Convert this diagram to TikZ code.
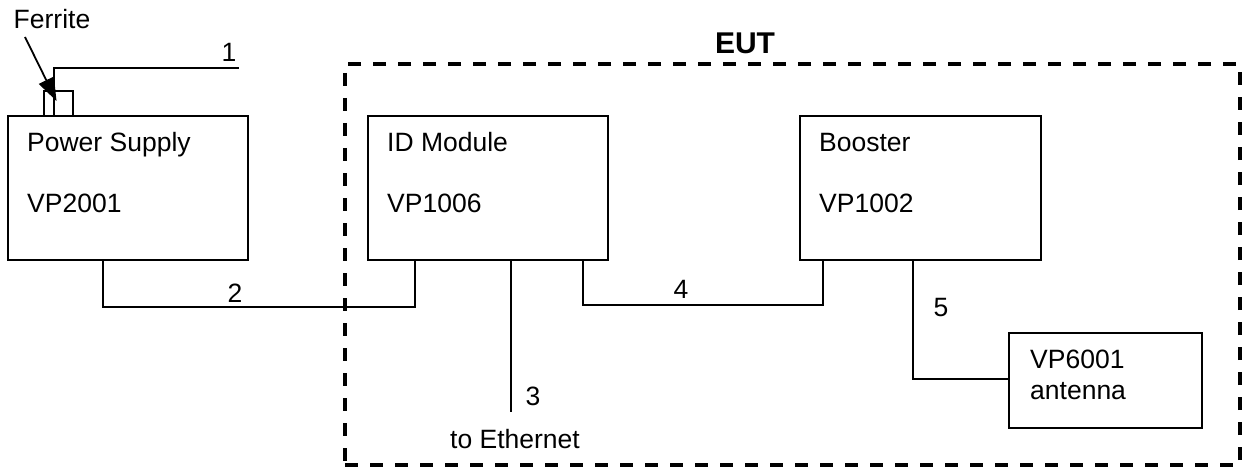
\documentclass[tikz,border=0pt]{standalone}
\usepackage{fontspec}
\setmainfont{Liberation Sans}
\usetikzlibrary{arrows.meta}
\begin{document}
\begin{tikzpicture}[x=1pt,y=-1pt,
  box/.style={draw, line width=1.8pt, anchor=north west, inner sep=0pt},
  lbl/.style={font=\fontsize{26.5}{31}\selectfont, inner sep=0pt},
  wire/.style={line width=1.8pt},
  eutbox/.style={draw, line width=4pt, dash pattern=on 13pt off 12pt, anchor=north west, inner sep=0pt}]
\useasboundingbox (0,0) rectangle (1242,468);
% EUT frame
\node[eutbox, minimum width=895pt, minimum height=401pt] (eut) at (343,62) {};
\node[font=\bfseries\fontsize{30}{36}\selectfont, inner sep=0pt] (eutl) at (745,43) {EUT};
% boxes
\node[box, minimum width=240pt, minimum height=144pt] (ps) at (7,115) {};
\node[box, minimum width=240pt, minimum height=144pt] (id) at (367,115) {};
\node[box, minimum width=241pt, minimum height=144pt] (bo) at (799,115) {};
\node[box, minimum width=193pt, minimum height=95pt] (ant) at (1008,332) {};
\node[box, minimum width=29pt, minimum height=25pt] (fer) at (43,90) {};
% box labels
\node[lbl, anchor=base west] (ps1) at (27,152) {Power Supply};
\node[lbl, anchor=base west] (ps2) at (27,212) {VP2001};
\node[lbl, anchor=base west] (id1) at (387,152) {ID Module};
\node[lbl, anchor=base west] (id2) at (387,212) {VP1006};
\node[lbl, anchor=base west] (bo1) at (819,152) {Booster};
\node[lbl, anchor=base west] (bo2) at (819,212) {VP1002};
\node[lbl, anchor=base west] (an1) at (1030,368) {VP6001};
\node[lbl, anchor=base west] (an2) at (1030,399) {antenna};
% cable 1
\coordinate (c1) at (239,68);
\draw[wire] (54,115) -- (54,68) -- (c1);
\node[lbl] (n1) at (229,52) {1};
% ferrite pointer
\node[lbl] (ferl) at (52,19) {Ferrite};
\coordinate (fstart) at (25,37);
\coordinate (fbase) at (46.3,80.2);
\coordinate (ftip) at (56.5,101);
\draw[line width=1.8pt] (fstart) -- (fbase);
\fill (ftip) -- (53.9,76.5) -- (38.7,83.9) -- cycle;
% cable 2
\coordinate (c2a) at (103,259);
\coordinate (c2b) at (415,259);
\draw[wire] (c2a) -- (103,307) -- (415,307) -- (c2b);
\node[lbl] (n2) at (235,293) {2};
% cable 3
\coordinate (c3a) at (511,259);
\coordinate (c3b) at (511,412);
\draw[wire] (c3a) -- (c3b);
\node[lbl] (n3) at (533,396) {3};
\node[lbl] (eth) at (515,439) {to Ethernet};
% cable 4
\coordinate (c4a) at (583,259);
\coordinate (c4b) at (823,259);
\draw[wire] (c4a) -- (583,305) -- (823,305) -- (c4b);
\node[lbl] (n4) at (681,289) {4};
% cable 5
\coordinate (c5a) at (913,259);
\draw[wire] (c5a) -- (913,379) -- (ant.west |- 0,379);
\node[lbl] (n5) at (941,308) {5};
\end{tikzpicture}
\end{document}
